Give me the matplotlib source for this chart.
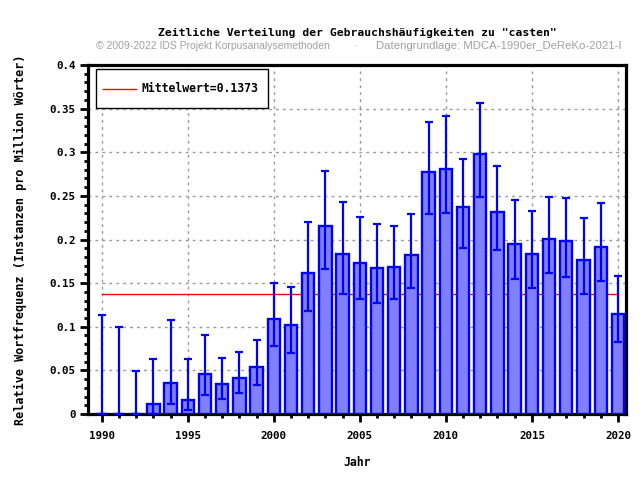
import matplotlib
matplotlib.use("Agg")
import matplotlib.pyplot as plt
import numpy as np
from matplotlib.ticker import MultipleLocator
from matplotlib.patches import Rectangle
from matplotlib.lines import Line2D

years = list(range(1990, 2021))
values = [0.0, 0.0, 0.0, 0.011, 0.036, 0.0165, 0.0456, 0.034, 0.041, 0.0537,
          0.1088, 0.1015, 0.1617, 0.2153, 0.1835, 0.1732, 0.167, 0.1686, 0.182,
          0.2778, 0.2812, 0.2376, 0.2985, 0.2318, 0.195, 0.1835, 0.2004, 0.1985,
          0.1766, 0.1912, 0.1142]
err_low = [0.0, 0.0, 0.0, 0.0, 0.012, 0.005, 0.022, 0.017, 0.0238, 0.0337,
           0.0785, 0.070, 0.118, 0.1667, 0.138, 0.1314, 0.1276, 0.1314, 0.1448,
           0.2287, 0.2299, 0.1908, 0.2487, 0.1874, 0.1552, 0.1448, 0.1613, 0.1575,
           0.138, 0.152, 0.082]
err_high = [0.114, 0.0996, 0.0498, 0.0625, 0.108, 0.0625, 0.090, 0.0647, 0.0705, 0.0843,
            0.1498, 0.145, 0.22, 0.2785, 0.243, 0.2257, 0.2176, 0.2153, 0.229,
            0.3349, 0.3418, 0.2923, 0.3567, 0.2843, 0.2452, 0.2326, 0.2487, 0.2475,
            0.2245, 0.2418, 0.1578]
mean_value = 0.1373
ytick_values = [0, 0.05, 0.1, 0.15, 0.2, 0.25, 0.3, 0.35, 0.4]
ytick_labels = ['0', '0.05', '0.1', '0.15', '0.2', '0.25', '0.3', '0.35', '0.4']

title = 'Zeitliche Verteilung der Gebrauchshäufigkeiten zu "casten"'
sub_left = "© 2009-2022 IDS Projekt Korpusanalysemethoden"
sub_mid = "·"
sub_right = "Datengrundlage: MDCA-1990er_DeReKo-2021-I"

x = np.array(years)
v = np.array(values)
lo = np.array(err_low)
hi = np.array(err_high)

W, H = 640, 480
fig = plt.figure(figsize=(6.4, 4.8), dpi=100)
L, R, T, B = 88, 626, 65, 414
ax = fig.add_axes([L / W, 1 - B / H, (R - L) / W, (B - T) / H])

mono = 'DejaVu Sans Mono'
blue = '#0000ff'

ax.bar(x, v, width=0.72, color='#8080ff', edgecolor=blue, linewidth=1.7, zorder=3)
ax.errorbar(x, v, yerr=[v - lo, hi - v], fmt='none', ecolor=blue,
            elinewidth=1.6, capsize=2.6, capthick=1.6, zorder=4)
ax.plot([years[0], years[-1]], [mean_value, mean_value], color='red', linewidth=1,
        zorder=2)

ax.set_xlim(1989.2, 2020.47)
ax.set_ylim(0, 0.4)
ax.xaxis.set_major_locator(MultipleLocator(5))
ax.xaxis.set_minor_locator(MultipleLocator(1))
ax.yaxis.set_minor_locator(MultipleLocator(0.01))
ax.set_yticks(ytick_values)
ax.set_yticklabels(ytick_labels)

ax.grid(True, which='major', color='#999999', linestyle=(0, (2, 3)), linewidth=1, zorder=0)
ax.set_axisbelow(True)

for s in ax.spines.values():
    s.set_linewidth(2.3)
ax.tick_params(which='major', direction='out', length=6, width=2, labelsize=7.8, pad=3)
ax.tick_params(axis='x', which='major', pad=6)
ax.tick_params(which='minor', direction='out', length=3, width=2)
for lab in ax.get_xticklabels() + ax.get_yticklabels():
    lab.set_fontfamily(mono)
    lab.set_fontweight('bold')

fig.text((L + R) / 2 / W, 1 - 462 / H, 'Jahr', ha='center', va='center',
         fontfamily=mono, fontweight='bold', fontsize=8.3)
fig.text(20 / W, 1 - 240 / H, 'Relative Wortfrequenz (Instanzen pro Million Wörter)',
         rotation=90, ha='center', va='center', fontfamily=mono, fontweight='bold',
         fontsize=8.5)

# legend box
aw, ah = R - L, B - T
def axfrac(px, py):
    return ((px - L) / aw, (B - py) / ah)
x0, y0 = axfrac(96, 108)
x1, y1 = axfrac(268, 69)
ax.add_patch(Rectangle((x0, y0), x1 - x0, y1 - y0, transform=ax.transAxes,
                       facecolor='white', edgecolor='black', linewidth=1, zorder=6))
la, lb = axfrac(103, 88.5)
lc, _ = axfrac(136, 88.5)
ax.add_line(Line2D([la, lc], [lb, lb], transform=ax.transAxes, color='red',
                   linewidth=1, zorder=7))
tx, ty = axfrac(141, 88.5)
ax.text(tx, ty, 'Mittelwert=%.4f' % mean_value, transform=ax.transAxes, ha='left',
        va='center', fontfamily=mono, fontweight='bold', fontsize=8.3, zorder=7)

fig.text(357 / W, 1 - 33 / H, title, ha='center', va='center', fontfamily=mono,
         fontweight='bold', fontsize=8.2)
fig.text(96 / W, 1 - 46 / H, sub_left, ha='left', va='center',
         fontfamily='Liberation Sans', fontsize=7.5, color='#a0a0a0')
fig.text(356 / W, 1 - 46 / H, sub_mid, ha='center', va='center',
         fontfamily='Liberation Sans', fontsize=7.5, color='#a0a0a0')
fig.text(376 / W, 1 - 46 / H, sub_right, ha='left', va='center',
         fontfamily='Liberation Sans', fontsize=8.2, color='#a0a0a0')

fig.savefig('out.png', dpi=100)
